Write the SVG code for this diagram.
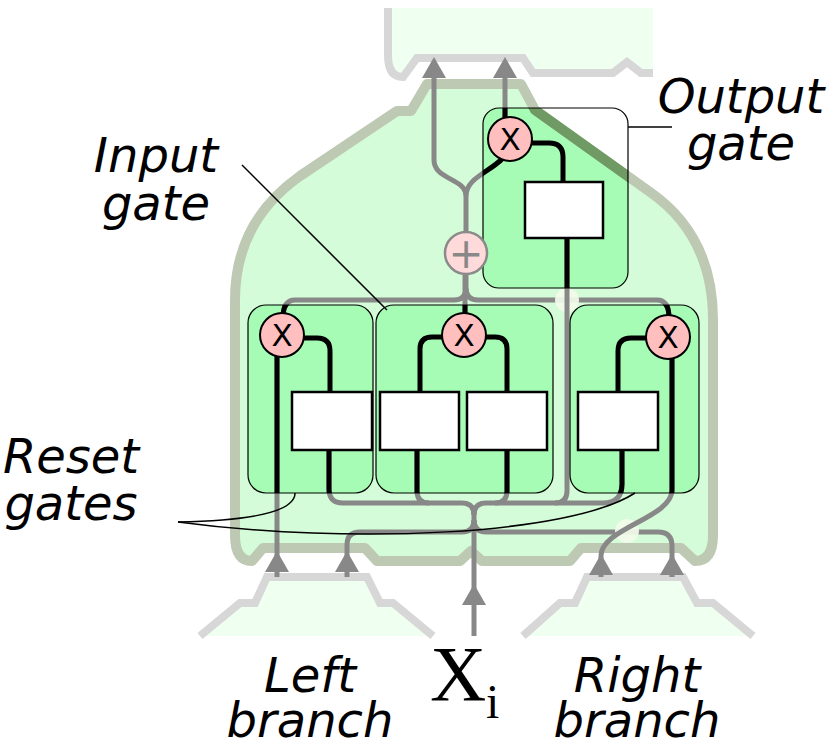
<svg xmlns="http://www.w3.org/2000/svg" xmlns:xlink="http://www.w3.org/1999/xlink" width="832" height="743" viewBox="0 0 832 743">
<style>
.cell{fill:#effff0;stroke:none}
.cellEdge{fill:none;stroke:#d7d7d7;stroke-width:8;stroke-linejoin:miter}
.gate{fill:#a6fcb5}
.gateEdge{fill:none;stroke:#000;stroke-width:1.2}
.c{fill:none;stroke:currentColor;stroke-width:5}
.b{fill:none;stroke:#000;stroke-width:5}
.arrow{fill:#888}
.box{fill:#fff;stroke:#000;stroke-width:2.5}
.mul{fill:#ffbfbf;stroke:#000;stroke-width:2}
.add{fill:#ffdada;stroke:#8a8a8a;stroke-width:2.5}
.sym{font-family:"DejaVu Sans",sans-serif;font-size:31px;text-anchor:middle;fill:#000}
.plus{font-family:"DejaVu Sans",sans-serif;font-size:42px;text-anchor:middle;fill:#888}
.lbl{font-family:"DejaVu Sans",sans-serif;font-style:italic;font-size:48px;text-anchor:middle;fill:#000}
.xi{font-family:"Liberation Serif",serif;fill:#000}
.call{fill:none;stroke:#000;stroke-width:1.5}
.hop{fill:#f2fbea;opacity:0.92}
</style>
<defs>
  <path id="bigPath" d="M427,84 H521 L535,110 L650,192 Q713,236 713,320 V535 Q713,561 695,561 L681,548 H581 L570,561 H482 L471,551 L460,561 H377 L365,548 H263 L252,561 Q235,561 235,535 V300 Q235,222 300,176 L397,111 H411 Z"/>
  <clipPath id="bigClip"><use xlink:href="#bigPath"/></clipPath>
  <clipPath id="outClip"><rect x="483" y="108" width="145" height="180" rx="16"/></clipPath>
  <clipPath id="gateClip">
    <rect x="483" y="108" width="145" height="180" rx="16"/>
    <rect x="248" y="305" width="125" height="188" rx="18"/>
    <rect x="376" y="305" width="177" height="188" rx="18"/>
    <rect x="570" y="305" width="129" height="188" rx="18"/>
  </clipPath>
  <path id="arr" d="M0,0 L-12,21 L12,21 Z"/>
</defs>

<!-- neighbouring cells -->
<g id="cell-above">
  <path class="cell" d="M388,8 V55 Q388,77 403,77 L417,58 H523 L533,73 H613 L627,62 L641,73 H653 V8 Z"/>
  <path class="cellEdge" d="M388,8 V55 Q388,77 403,77 L417,58 H523 L533,73 H613 L627,62 L641,73 H653"/>
</g>
<g id="cell-left-branch">
  <path class="cell" d="M200,636 L240,603 H255 L267,577 H367 L380,603 H393 L433,636 Z"/>
  <path class="cellEdge" d="M200,636 L240,603 H255 L267,577 H367 L380,603 H393 L433,636"/>
</g>
<g id="cell-right-branch">
  <path class="cell" d="M523,636 L560,603 H575 L587,577 H683 L697,603 H713 L753,636 Z"/>
  <path class="cellEdge" d="M523,636 L560,603 H575 L587,577 H683 L697,603 H713 L753,636"/>
</g>

<!-- main cell background -->
<g id="main-cell">
  <use xlink:href="#bigPath" fill="#d4fcd8"/>
  <rect class="gate" x="483" y="108" width="145" height="180" rx="16" clip-path="url(#bigClip)"/>
  <rect class="gate" x="248" y="305" width="125" height="188" rx="18"/>
  <rect class="gate" x="376" y="305" width="177" height="188" rx="18"/>
  <rect class="gate" x="570" y="305" width="129" height="188" rx="18"/>
  <use xlink:href="#bigPath" fill="none" stroke="#bec9b4" stroke-width="10" stroke-linejoin="round"/>
  <use xlink:href="#bigPath" fill="none" stroke="#6f9a64" stroke-width="10" stroke-linejoin="round" clip-path="url(#outClip)"/>
</g>

<!-- connectors -->
<g color="#888">
<g id="connectors">
  <path class="c" d="M466,232 V196 C466,178 434,180 434,160 V76"/>
  <path class="c" d="M466,196 C466,178 490,172 503,158"/>
  <path class="c" d="M505,125 V76"/>
  <path class="c" d="M466,274 V288 Q466,300 454,300 H295 Q283,300 283,318"/>
  <path class="c" d="M466,288 Q466,300 478,300 H657 Q669,300 669,318"/>
  <path class="c" d="M465,274 V318"/>
  <path class="c" d="M277,352 V577"/>
  <path class="c" d="M329,450 V489 Q329,503 343,503 H462 Q474,503 474,515"/>
  <path class="c" d="M417,450 V491 Q417,503 429,503"/>
  <path class="c" d="M507,450 V491 Q507,503 495,503"/>
  <path class="c" d="M622,450 V484 Q622,503 603,503 H486 Q474,503 474,515"/>
  <path class="c" d="M474,636 V510"/>
  <path class="c" d="M347,577 V545 Q347,532 360,532 H462 Q474,532 474,520"/>
  <path class="c" d="M672,577 V546 Q672,532 658,532 H486 Q474,532 474,520"/>
  <circle class="hop" cx="567" cy="300" r="12"/>
  <circle class="hop" cx="627" cy="531" r="12"/>
  <path class="c" d="M567,238 V491 Q567,503 555,503"/>
  <path class="c" d="M672,356 V490 C672,518 601,528 601,556 V577"/>
</g>
</g>
<use xlink:href="#connectors" color="#000" clip-path="url(#gateClip)"/>
<g id="arrowheads" class="arrow">
  <use xlink:href="#arr" x="434" y="57"/>
  <use xlink:href="#arr" x="505" y="57"/>
  <use xlink:href="#arr" x="277" y="551"/>
  <use xlink:href="#arr" x="347" y="551"/>
  <use xlink:href="#arr" x="474" y="584"/>
  <use xlink:href="#arr" x="601" y="554"/>
  <use xlink:href="#arr" x="672" y="554"/>
</g>

<!-- gates -->
<g id="output-gate">
  <rect class="gateEdge" x="483" y="108" width="145" height="180" rx="16"/>
  <path class="b" d="M530,143 H549 Q563,143 563,157 V182"/>
  <rect class="box" x="525" y="182" width="78" height="56"/>
  <circle class="mul" cx="510" cy="139" r="22"/>
  <text class="sym" x="510" y="150">X</text>
</g>
<g id="sum">
  <circle class="add" cx="466" cy="253" r="21"/>
  <text class="plus" x="466" y="268">+</text>
</g>
<g id="reset-gate-left">
  <rect class="gateEdge" x="248" y="305" width="125" height="188" rx="18"/>
  <path class="b" d="M302,338 H317 Q330,338 330,351 V392"/>
  <rect class="box" x="292" y="392" width="80" height="58"/>
  <circle class="mul" cx="282" cy="335" r="22"/>
  <text class="sym" x="282" y="346">X</text>
</g>
<g id="input-gate">
  <rect class="gateEdge" x="376" y="305" width="177" height="188" rx="18"/>
  <path class="b" d="M444,337 H432 Q420,337 420,349 V392"/>
  <path class="b" d="M484,337 H495 Q507,337 507,349 V392"/>
  <rect class="box" x="380" y="392" width="79" height="58"/>
  <rect class="box" x="467" y="392" width="80" height="58"/>
  <circle class="mul" cx="464" cy="335" r="22"/>
  <text class="sym" x="464" y="346">X</text>
</g>
<g id="reset-gate-right">
  <rect class="gateEdge" x="570" y="305" width="129" height="188" rx="18"/>
  <path class="b" d="M648,338 H631 Q618,338 618,351 V392"/>
  <rect class="box" x="578" y="392" width="80" height="58"/>
  <circle class="mul" cx="668" cy="337" r="22"/>
  <text class="sym" x="668" y="348">X</text>
</g>

<!-- callouts and labels -->
<g id="callouts">
  <path class="call" d="M628,127 H672"/>
  <path class="call" d="M242,165 L387,310"/>
  <path class="call" d="M178,522 C230,521 295,516 295,493"/>
  <path class="call" d="M178,522 C350,545 570,535 635,493"/>
</g>
<g id="labels">
  <text class="lbl"><tspan x="741" y="113">Output</tspan><tspan x="741" y="160">gate</tspan></text>
  <text class="lbl"><tspan x="156" y="172">Input</tspan><tspan x="156" y="220">gate</tspan></text>
  <text class="lbl"><tspan x="71" y="473">Reset</tspan><tspan x="71" y="520">gates</tspan></text>
  <text class="lbl"><tspan x="310" y="692">Left</tspan><tspan x="310" y="737">branch</tspan></text>
  <text class="lbl"><tspan x="637" y="692">Right</tspan><tspan x="637" y="737">branch</tspan></text>
  <text class="xi"><tspan x="430" y="700" font-size="78">X</tspan><tspan x="486" y="718" font-size="48">i</tspan></text>
</g>
</svg>
